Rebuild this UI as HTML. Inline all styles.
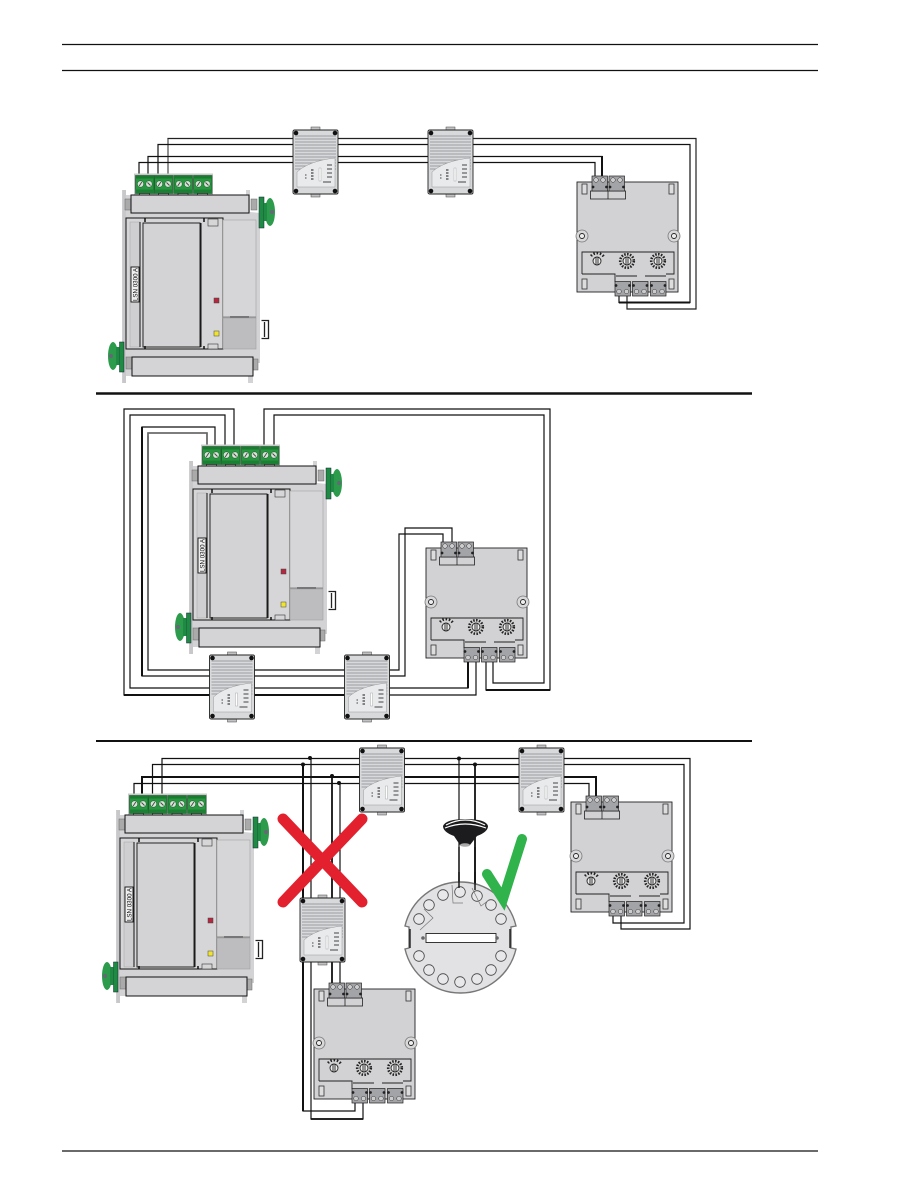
<!DOCTYPE html>
<html><head><meta charset="utf-8"><style>html,body{margin:0;padding:0;background:#fff}svg{display:block}</style></head><body>
<svg xmlns="http://www.w3.org/2000/svg" width="900" height="1201" viewBox="0 0 900 1201">
<defs>
<g id="term">
<rect x="0" y="0" width="18.500" height="18" fill="#27983f" stroke="#14401f" stroke-width=".6"/>
<rect x="0" y="0" width="18.500" height="3" fill="#1a7a30"/>
<rect x="0" y="14" width="18.500" height="4" fill="#1c8034"/>
<circle cx="5" cy="8.500" r="3.200" fill="#d6e4d6" stroke="#1a4a2a" stroke-width=".5"/><circle cx="13.500" cy="8.500" r="3.200" fill="#d6e4d6" stroke="#1a4a2a" stroke-width=".5"/>
<path d="M3.700 10.500L6.300 6.500M12 7L15 10" stroke="#444" stroke-width=".9"/>
<rect x="4" y="18" width="10" height="2.500" fill="#ddd" stroke="#222" stroke-width=".7"/>
</g>
<g id="panel">
<rect x="134" y="173.500" width="79" height="21" fill="#c9c9cb"/>
<path d="M122 190h4v5h120v-5h4v22l10 1v150h-7v20h-5v-7H126v7h-4z" fill="#d3d3d5"/>
<rect x="122.500" y="190" width="3.500" height="193" fill="#c8c8ca"/>
<use href="#term" x="135.500" y="175.500"/><use href="#term" x="154.500" y="175.500"/><use href="#term" x="174" y="175.500"/><use href="#term" x="193.500" y="175.500"/>
<rect x="125" y="199" width="6" height="11" fill="#aaa" stroke="#666" stroke-width=".5"/><rect x="251" y="199" width="6" height="11" fill="#aaa" stroke="#666" stroke-width=".5"/>
<rect x="131" y="195" width="118" height="18" fill="#d4d4d6" stroke="#111" stroke-width="1"/>
<rect x="126" y="218" width="97" height="131" fill="#d6d6d8" stroke="#111" stroke-width="1"/>
<rect x="223" y="220" width="33" height="98" fill="#d6d6d8" stroke="#999" stroke-width=".5"/>
<rect x="223" y="318" width="33" height="31" fill="#bdbdbf" stroke="#999" stroke-width=".5"/>
<path d="M223 317h33" stroke="#888" stroke-width="1"/><path d="M230 317h19" stroke="#777" stroke-width="2"/>
<rect x="130" y="222" width="10" height="125" fill="#cfcfd1" stroke="#999" stroke-width=".4"/>
<path d="M140 222v125" stroke="#111" stroke-width="1"/>
<rect x="143" y="223" width="57" height="124" fill="#d3d3d5" stroke="#111" stroke-width=".9"/>
<path d="M201 223v124" stroke="#111" stroke-width="1"/>
<rect x="208" y="219" width="10" height="7" fill="#d6d6d8" stroke="#333" stroke-width=".6"/>
<rect x="208" y="344" width="10" height="5" fill="#d6d6d8" stroke="#333" stroke-width=".6"/>
<path d="M145 218v4M204 218v4M145 346v3M204 346v3" stroke="#111" stroke-width="1.500"/>
<rect x="214" y="298" width="5" height="5" fill="#b5273f" stroke="#444" stroke-width=".5"/>
<rect x="214" y="331" width="5" height="5" fill="#f0e431" stroke="#444" stroke-width=".5"/>
<rect x="131" y="267" width="8" height="35" fill="#eee" stroke="#111" stroke-width=".9"/>
<path d="M261.500 320.500h7v18h-7M264.500 322v15" fill="none" stroke="#222" stroke-width="1.300"/>
<rect x="126" y="357" width="6" height="12" fill="#aaa" stroke="#666" stroke-width=".5"/><rect x="253" y="359" width="5" height="11" fill="#aaa" stroke="#666" stroke-width=".5"/>
<rect x="132" y="357" width="121" height="19" fill="#d4d4d6" stroke="#111" stroke-width="1"/>
<rect x="259" y="197" width="5" height="31" fill="#1f8a43" stroke="#123" stroke-width=".5"/>
<ellipse cx="270" cy="212" rx="5" ry="14" fill="#2c9c4c"/><rect x="264" y="203" width="3" height="18" fill="#1f8a43"/><circle cx="272" cy="212" r="2" fill="#667"/>
<rect x="119.500" y="342" width="4.500" height="30" fill="#1f8a43" stroke="#123" stroke-width=".5"/>
<ellipse cx="113" cy="356" rx="5" ry="14" fill="#2c9c4c"/><rect x="116" y="347" width="3.500" height="18" fill="#1f8a43"/><circle cx="111" cy="356" r="2" fill="#667"/>
</g>
<g id="mod">
<rect x="18" y="-3" width="9" height="4" fill="#c2c2c4" stroke="#444" stroke-width=".5"/>
<rect x="18" y="63" width="9" height="4" fill="#c2c2c4" stroke="#444" stroke-width=".5"/>
<rect x="0" y="0" width="45" height="64" rx="1.500" fill="#d8d9db" stroke="#222" stroke-width=".9"/>
<path d="M2 6H43M2 9H43M2 12H43M2 15H43M2 18H43M2 21H43M2 24H43M2 27H43M2 30H43M2 33H43M2 36H43M2 39H43" stroke="#9c9da1" stroke-width="1"/>
<path d="M4 42Q16 31 42 28V57H4Z" fill="#e9eaec" stroke="#999" stroke-width=".5"/>
<path d="M18 40h2.500M18 43h2.500M18 46h2.500M18 49h2.500" stroke="#444" stroke-width="1.300"/>
<rect x="26" y="38" width="2" height="13" fill="#fff" stroke="#999" stroke-width=".4"/>
<path d="M34 35h5M34 39h5M34 43h5M34 47h5M30 52h8M12 45h1.500M12 48h1.500" stroke="#444" stroke-width="1.100"/>
<g fill="#111"><circle cx="3" cy="3" r="2.300"/><circle cx="42" cy="3" r="2.300"/><circle cx="3" cy="61" r="2.300"/><circle cx="42" cy="61" r="2.300"/></g>
</g>
<g id="ct">
<rect x="0" y="0" width="15.500" height="15" fill="#a3a4a8" stroke="#222" stroke-width=".7"/>
<circle cx="4" cy="4" r="2.300" fill="#ccc" stroke="#333" stroke-width=".5"/><circle cx="11" cy="4" r="2.300" fill="#ccc" stroke="#333" stroke-width=".5"/>
<circle cx="1" cy="11" r="1.400" fill="#222"/><circle cx="14.500" cy="11" r="1.400" fill="#222"/>
</g>
<g id="cb">
<rect x="0" y="0" width="15.500" height="14.500" fill="#a3a4a8" stroke="#222" stroke-width=".7"/>
<circle cx="4" cy="10" r="2.300" fill="#ccc" stroke="#333" stroke-width=".5"/><circle cx="11.500" cy="10" r="2.300" fill="#ccc" stroke="#333" stroke-width=".5"/>
<circle cx="1" cy="4" r="1.400" fill="#222"/><circle cx="14.500" cy="4" r="1.400" fill="#222"/>
</g>
<g id="sw">
<circle cx="0" cy="0" r="6.800" fill="none" stroke="#222" stroke-width="2.600" stroke-dasharray="1.500 1.400"/>
<circle cx="0" cy="0" r="4" fill="#eee" stroke="#222" stroke-width=".9"/>
<path d="M-1 -3.500V3.500M1 -3.500V3.500" stroke="#222" stroke-width=".9"/>
</g>
<g id="sw1">
<path d="M-6 -5A8 8 0 0 1 7 -4" fill="none" stroke="#222" stroke-width="2.600" stroke-dasharray="1.500 1.700"/>
<circle cx="0" cy="0" r="4" fill="#eee" stroke="#222" stroke-width=".9"/>
<path d="M-1 -3.500V3.500M1 -3.500V3.500" stroke="#222" stroke-width=".9"/>
</g>
<g id="board">
<rect x="577" y="182" width="101" height="110" fill="#d2d2d4" stroke="#222" stroke-width=".9"/>
<rect x="582" y="184" width="5" height="10" fill="#ddd" stroke="#333" stroke-width=".8"/><rect x="669" y="184" width="5" height="10" fill="#ddd" stroke="#333" stroke-width=".8"/>
<rect x="582" y="279" width="5" height="10" fill="#ddd" stroke="#333" stroke-width=".8"/><rect x="669" y="279" width="5" height="10" fill="#ddd" stroke="#333" stroke-width=".8"/>
<circle cx="582" cy="236" r="6" fill="#d8d8da" stroke="#777" stroke-width=".8"/><circle cx="582" cy="236" r="2.500" fill="#eee" stroke="#222" stroke-width=".9"/>
<circle cx="674" cy="236" r="6" fill="#d8d8da" stroke="#777" stroke-width=".8"/><circle cx="674" cy="236" r="2.500" fill="#eee" stroke="#222" stroke-width=".9"/>
<path d="M582 274V252H674V274H666M582 274H615V282M616 276H637M645 276H666" fill="none" stroke="#222" stroke-width=".9"/>
<rect x="590.500" y="191" width="35" height="8" fill="#d2d2d4" stroke="#222" stroke-width=".8"/><path d="M608 191v8" stroke="#222" stroke-width=".8"/>
<use href="#ct" x="592" y="176"/><use href="#ct" x="609" y="176"/>
<use href="#cb" x="615" y="281.500"/><use href="#cb" x="632.500" y="281.500"/><use href="#cb" x="650.500" y="281.500"/>
<use href="#sw1" x="597" y="261"/><use href="#sw" x="627" y="261"/><use href="#sw" x="658" y="261"/>
</g>
</defs>

<g stroke="#111" fill="none">
<path d="M62 44.500H818M62 70.500H818M62 1151H818" stroke-width="1.200"/>
<path d="M96 393.500H752" stroke-width="2.600"/>
<path d="M96 741H752" stroke-width="2"/>

<!-- section 1 wires -->
<g stroke-width="1.200">
<path d="M168 176V138.500H696V309H627V296" stroke="#222"/>
<path d="M168 176V139" stroke="#777" stroke-width="1.400"/>
<path d="M158 176V144.500H690V302.500H619V296"/>
<path d="M148 176V156.500H602V176"/>
<path d="M139 176V162.500H595V176"/>
<path d="M602 156V176M690 302.500H619" stroke-width="2"/>
</g>
<!-- section 2 wires -->
<g stroke-width="1.200">
<path d="M234 448V409H124V695H476V660"/>
<path d="M225 448V415H130V688H468V660"/>
<path d="M215 448V427H142V676H405V528H452V543"/>
<path d="M207 448V433H148V670H399V534H443V543" />
<path d="M264 448V409H550V690H486V660"/>
<path d="M274 448V415H544V683H493V660"/>
<path d="M124 695H345M142 427V676M468 688V660M486 690H550" stroke-width="2"/>
<path d="M207 448V433H148V436" stroke="#666" stroke-width="1.600"/>
</g>
<!-- section 3 wires -->
<g stroke-width="1.200">
<path d="M162 798V758.500H690V929H621V916"/>
<path d="M152.500 798V764.500H684V923H613V916"/>
<path d="M142 798V777H596V796" stroke-width="2"/>
<path d="M134 798V783.500H589V796"/>
<path d="M303 764V1111H355V1103" />
<path d="M303 764V1111" stroke-width="2"/>
<path d="M311 758V1119H363V1103"/>
<path d="M311 1119H363" stroke-width="1.800"/>
<path d="M332 776V984" stroke-width="1.800"/>
<path d="M340 783V984"/>
<path d="M459 758V888"/>
<path d="M475 764V890" stroke-width="1.800"/>
</g>
</g>
<g fill="#111"><circle cx="310" cy="758" r="2"/><circle cx="303" cy="764.500" r="2"/><circle cx="332" cy="776" r="2"/><circle cx="339" cy="783" r="2"/><circle cx="459" cy="758.500" r="2"/><circle cx="475" cy="764.500" r="2"/></g>

<!-- red X -->
<path d="M283 819L362 902M362 819L283 902" stroke="#e2202e" stroke-width="11" stroke-linecap="round" fill="none"/>

<!-- panels -->
<use href="#panel"/>
<use href="#panel" x="67" y="271"/>
<use href="#panel" x="-6" y="620"/>
<g font-family="'Liberation Sans',sans-serif" font-size="6.200" fill="#111" text-anchor="middle">
<text transform="translate(137.300 284.500) rotate(-90)">LSN 0300 A</text>
<text transform="translate(204.300 555.500) rotate(-90)">LSN 0300 A</text>
<text transform="translate(131.300 904.500) rotate(-90)">LSN 0300 A</text>
</g>

<!-- modules -->
<use href="#mod" x="293" y="130"/><use href="#mod" x="428" y="130"/>
<use href="#mod" x="209.500" y="655"/><use href="#mod" x="344.500" y="655"/>
<use href="#mod" x="359.500" y="748"/><use href="#mod" x="519" y="748"/>
<use href="#mod" x="300" y="898"/>

<!-- boards -->
<use href="#board"/>
<use href="#board" x="-151" y="366"/>
<use href="#board" x="-263" y="807"/>
<use href="#board" x="-6" y="620"/>

<!-- detector -->
<path d="M443 826Q446 819 465.500 819Q486 819 488 826Q488 832 477 836L470 845Q465 848 460 845L454 836Q443 832 443 826Z" fill="#1c1c1e"/>
<path d="M446 825Q465 815 485 825M445 828Q465 820 486 828" stroke="#fff" stroke-width="1.200" fill="none"/>
<ellipse cx="465" cy="845" rx="5" ry="1.800" fill="#aaa"/>
<path d="M459 847V888M475 847V890" stroke="#111" stroke-width="1.400" fill="none"/>

<!-- base -->
<path d="M405 926A57 57 0 0 1 516 926L511 927V948L516 949A57 57 0 0 1 405 949L409 948V927Z" fill="#e2e2e4" stroke="#777" stroke-width="1.400"/>
<path d="M410 929V948M510 929V948" stroke="#111" stroke-width="1.300"/>
<rect x="426" y="933.500" width="70" height="9" fill="#fff" stroke="#222" stroke-width=".9"/>
<circle cx="423" cy="938" r="1.800" fill="#666"/><circle cx="497" cy="938" r="1.800" fill="#666"/>
<g fill="#e8e8ea" stroke="#444" stroke-width=".8">
<circle cx="419" cy="919" r="5.300"/><circle cx="429" cy="905" r="5.300"/><circle cx="443" cy="895" r="5.300"/><circle cx="460" cy="892" r="5.300"/><circle cx="477" cy="896" r="5.300"/><circle cx="491" cy="905" r="5.300"/><circle cx="501" cy="919" r="5.300"/>
<circle cx="501" cy="956" r="5.300"/><circle cx="491" cy="970" r="5.300"/><circle cx="477" cy="979" r="5.300"/><circle cx="460" cy="982" r="5.300"/><circle cx="443" cy="979" r="5.300"/><circle cx="429" cy="970" r="5.300"/><circle cx="419" cy="956" r="5.300"/>
</g>
<path d="M452 885L453 903H463M472 888L481 906L489 900M424 909L433 918L420 930" fill="none" stroke="#777" stroke-width=".7"/>
<path d="M459 872V888M475 872V890" stroke="#111" stroke-width="1.400" fill="none"/>

<!-- check -->
<path d="M487 874L503 899L522 839" fill="none" stroke="#2fb34a" stroke-width="10" stroke-linecap="round" stroke-linejoin="miter"/>
</svg>
</body></html>
